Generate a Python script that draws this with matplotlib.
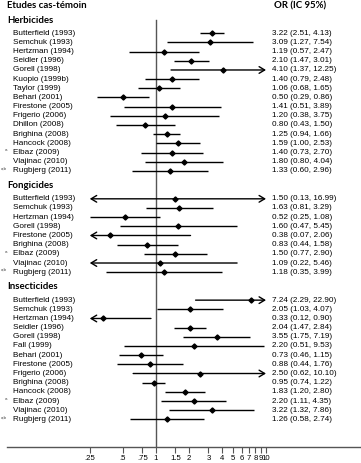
import matplotlib
matplotlib.use("Agg")
import matplotlib.pyplot as plt
from matplotlib.transforms import blended_transform_factory

# ---------------- data ----------------
herb_names = ["Butterfield (1993)", "Semchuk (1993)", "Hertzman (1994)", "Seidler (1996)",
              "Gorell (1998)", "Kuopio (1999b)", "Taylor (1999)", "Behari (2001)",
              "Firestone (2005)", "Frigerio (2006)", "Dhillon (2008)", "Brighina (2008)",
              "Hancock (2008)", "Elbaz (2009)", "Vlajinac (2010)", "Rugbjerg (2011)"]
herb_or = [3.22, 3.09, 1.19, 2.10, 4.10, 1.40, 1.06, 0.50, 1.41, 1.20, 0.80, 1.25, 1.59, 1.40, 1.80, 1.33]
herb_lo = [2.51, 1.27, 0.57, 1.47, 1.37, 0.79, 0.68, 0.29, 0.51, 0.38, 0.43, 0.94, 1.00, 0.73, 0.80, 0.60]
herb_hi = [4.13, 7.54, 2.47, 3.01, 12.25, 2.48, 1.65, 0.86, 3.89, 3.75, 1.50, 1.66, 2.53, 2.70, 4.04, 2.96]
herb_note = [""] * 13 + ["a", "", "a,b"]

fong_names = ["Butterfield (1993)", "Semchuk (1993)", "Hertzman (1994)", "Gorell (1998)",
              "Firestone (2005)", "Brighina (2008)", "Elbaz (2009)", "Vlajinac (2010)",
              "Rugbjerg (2011)"]
fong_or = [1.50, 1.63, 0.52, 1.60, 0.38, 0.83, 1.50, 1.09, 1.18]
fong_lo = [0.13, 0.81, 0.25, 0.47, 0.07, 0.44, 0.77, 0.22, 0.35]
fong_hi = [16.99, 3.29, 1.08, 5.45, 2.06, 1.58, 2.90, 5.46, 3.99]
fong_note = [""] * 6 + ["a", "", "a,b"]

ins_names = ["Butterfield (1993)", "Semchuk (1993)", "Hertzman (1994)", "Seidler (1996)",
             "Gorell (1998)", "Fall (1999)", "Behari (2001)", "Firestone (2005)",
             "Frigerio (2006)", "Brighina (2008)", "Hancock (2008)", "Elbaz (2009)",
             "Vlajinac (2010)", "Rugbjerg (2011)"]
ins_or = [7.24, 2.05, 0.33, 2.04, 3.55, 2.20, 0.73, 0.88, 2.50, 0.95, 1.83, 2.20, 3.22, 1.26]
ins_lo = [2.29, 1.03, 0.12, 1.47, 1.75, 0.51, 0.46, 0.44, 0.62, 0.74, 1.20, 1.11, 1.32, 0.58]
ins_hi = [22.90, 4.07, 0.90, 2.84, 7.19, 9.53, 1.15, 1.76, 10.10, 1.22, 2.80, 4.35, 7.86, 2.74]
ins_note = [""] * 11 + ["a", "", "a,b"]

sections = [
    ("Herbicides", herb_names, herb_or, herb_lo, herb_hi, herb_note),
    ("Fongicides", fong_names, fong_or, fong_lo, fong_hi, fong_note),
    ("Insecticides", ins_names, ins_or, ins_lo, ins_hi, ins_note),
]
tick_vals = [0.25, 0.5, 0.75, 1, 1.5, 2, 3, 4, 5, 6, 7, 8, 9, 10]
tick_labels = [".25", ".5", ".75", "1", "1.5", "2", "3", "4", "5", "6", "7", "8", "9", "10"]
clip_lo, clip_hi = 0.25, 10

# ---------------- layout ----------------
W, H = 361, 463
fig = plt.figure(figsize=(W / 100, H / 100), dpi=100)
ax_left, ax_right = 7, 360
ax_bottom_px = 446.7
ax = fig.add_axes([ax_left / W, (H - ax_bottom_px) / H, (ax_right - ax_left) / W, ax_bottom_px / H])

row_px = 9.17
y0_px = 33.3
ax.set_xscale("log")
x0_px, dec_px = 156, 110
ax.set_xlim(10 ** ((ax_left - x0_px) / dec_px), 10 ** ((ax_right - x0_px) / dec_px))
ax.set_ylim((ax_bottom_px - y0_px) / row_px, (0 - y0_px) / row_px)

name_font = ["Liberation Sans", "DejaVu Sans"]
head_font = ["Lato", "DejaVu Sans"]
fs = 5.85
hfs = 6.9
tr_name = blended_transform_factory(fig.transFigure, ax.transData)

# title row
title_y = (5.5 - y0_px) / row_px
ax.text(7 / W, title_y, "Etudes cas-témoin", transform=tr_name, family=head_font,
        fontweight="bold", fontsize=hfs, va="center", ha="left")
ax.text(300 / W, title_y, "OR (IC 95%)", transform=tr_name, family=head_font,
        fontweight="bold", fontsize=hfs, va="center", ha="center")

y = 0.0
header_ys = []
first = True
for title, names, ors, los, his, notes in sections:
    if first:
        hy = -1.45
        first = False
    else:
        hy = y + 0.6
        y = hy + 1.45
    header_ys.append(hy)
    ax.text(7 / W, hy, title, transform=tr_name, family=head_font, fontweight="bold",
            fontsize=hfs, va="center", ha="left")
    for i, (nm, o, lo, hi, nt) in enumerate(zip(names, ors, los, his, notes)):
        yy = y
        ax.text(13 / W, yy, nm, transform=tr_name, family=name_font, fontsize=fs,
                va="center", ha="left")
        if nt:
            ax.text((5 if nt == "a" else 1) / W, yy - 0.25, nt, transform=tr_name,
                    family=name_font, fontsize=3.2, va="center", ha="left", color="#444444")
        ax.text(271.7 / W, yy, f"{o:.2f} ({lo:.2f}, {hi:.2f})", transform=tr_name,
                family=name_font, fontsize=fs, va="center", ha="left")
        a = max(lo, clip_lo)
        b = min(hi, clip_hi)
        left_arrow = lo < clip_lo
        right_arrow = hi > clip_hi
        style = {(False, False): "-", (True, False): "<-", (False, True): "->", (True, True): "<->"}[(left_arrow, right_arrow)]
        if style == "-":
            ax.plot([a, b], [yy, yy], color="black", lw=1.0, solid_capstyle="butt")
        else:
            ax.annotate("", xy=(b, yy), xytext=(a, yy),
                        arrowprops=dict(arrowstyle=style + ",head_length=0.5,head_width=0.3",
                                        color="black", lw=1.0, shrinkA=0, shrinkB=0,
                                        mutation_scale=8))
        ax.plot([o], [yy], marker="D", markersize=2.6, color="black", mec="black")
        y += 1
    y -= 1
    y += 1.0

# vertical null line
ax.plot([1, 1], [header_ys[0], (ax_bottom_px - y0_px) / row_px], color="#555555", lw=1.0, zorder=0)

# axes styling
for s in ["top", "right", "left"]:
    ax.spines[s].set_visible(False)
ax.spines["bottom"].set_color("#555555")
ax.spines["bottom"].set_linewidth(1.0)
ax.set_yticks([])
ax.set_xticks(tick_vals)
ax.set_xticklabels(tick_labels, family=name_font, fontsize=5.6)
ax.xaxis.set_minor_locator(matplotlib.ticker.NullLocator())
ax.tick_params(axis="x", length=4, width=0.8, color="#555555", pad=2)

fig.savefig("out.png", dpi=100)
